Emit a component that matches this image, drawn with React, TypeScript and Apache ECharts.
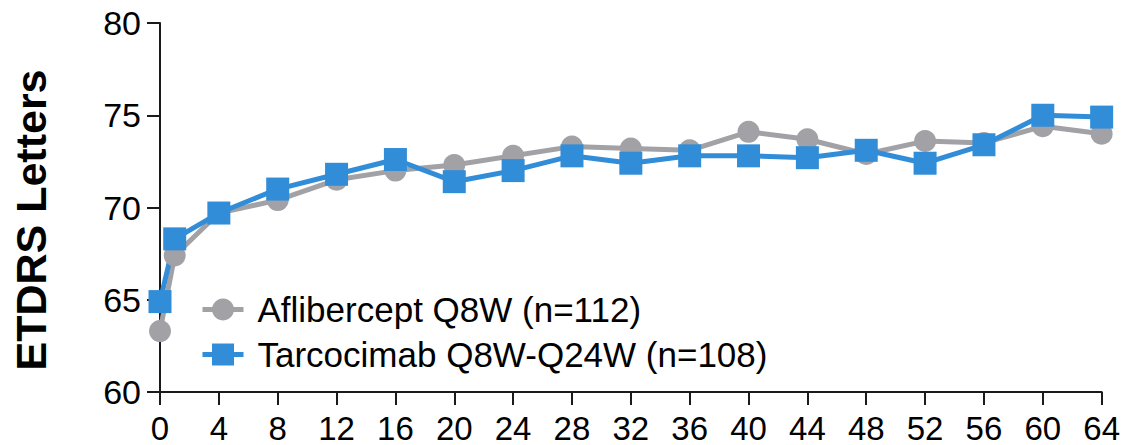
import React, { useEffect, useRef } from "react";
import * as echarts from "echarts";

const weeks = [0, 1, 4, 8, 12, 16, 20, 24, 28, 32, 36, 40, 44, 48, 52, 56, 60, 64];
const aflibercept = [63.3, 67.4, 69.7, 70.4, 71.5, 72.0, 72.3, 72.8, 73.3, 73.2, 73.1, 74.1, 73.7, 72.9, 73.6, 73.5, 74.4, 74.0];
const tarcocimab = [64.9, 68.3, 69.7, 71.0, 71.8, 72.6, 71.4, 72.0, 72.8, 72.4, 72.8, 72.8, 72.7, 73.1, 72.4, 73.4, 75.0, 74.9];
const seriesNames = ["Aflibercept Q8W (n=112)", "Tarcocimab Q8W-Q24W (n=108)"];
const yAxisTitle = "ETDRS Letters";

const FONT = "'Liberation Sans', Arial, Helvetica, sans-serif";
const GRAY = "#A2A1A6";
const BLUE = "#318DD8";
const AXIS = "#1a1a1a";

export default function App() {
  const ref = useRef<HTMLDivElement>(null);
  useEffect(() => {
    if (!ref.current) return;
    const chart = echarts.init(ref.current, null, { renderer: "svg" });
    const toPairs = (vals: number[]) => weeks.map((w, i) => [w, vals[i]]);
    chart.setOption({
      animation: false,
      backgroundColor: "#ffffff",
      grid: { left: 160, right: 21, top: 23, bottom: 53, containLabel: false },
      xAxis: {
        type: "value",
        min: 0,
        max: 64,
        interval: 4,
        splitLine: { show: false },
        axisLine: { show: true, lineStyle: { color: AXIS, width: 2 } },
        axisTick: { show: true, length: 13, lineStyle: { color: AXIS, width: 2 } },
        axisLabel: { fontSize: 33, lineHeight: 30, color: "#000", fontFamily: FONT, margin: 21 },
      },
      yAxis: {
        type: "value",
        min: 60,
        max: 80,
        interval: 5,
        splitLine: { show: false },
        axisLine: { show: true, lineStyle: { color: AXIS, width: 2 } },
        axisTick: { show: true, length: 13, lineStyle: { color: AXIS, width: 2 } },
        axisLabel: { fontSize: 34, color: "#000", fontFamily: FONT, margin: 19 },
      },
      legend: {
        orient: "vertical",
        left: 195,
        top: 287,
        itemWidth: 41,
        itemHeight: 27.5,
        itemGap: 10,
        data: seriesNames,
        lineStyle: { width: 5 },
        textStyle: { fontSize: 35, lineHeight: 34, color: "#000", fontFamily: FONT, padding: [0, 0, 0, 9] },
      },
      graphic: [
        {
          type: "text",
          x: 31,
          y: 220,
          rotation: Math.PI / 2,
          style: {
            text: yAxisTitle,
            fontSize: 43,
            fontWeight: "bold",
            fontFamily: FONT,
            fill: "#000",
            textAlign: "center",
            textVerticalAlign: "middle",
          },
        },
      ],
      series: [
        {
          name: seriesNames[0],
          type: "line",
          data: toPairs(aflibercept),
          symbol: "circle",
          symbolSize: 22,
          clip: false,
          lineStyle: { color: GRAY, width: 5 },
          itemStyle: { color: GRAY },
        },
        {
          name: seriesNames[1],
          type: "line",
          data: toPairs(tarcocimab),
          symbol: "rect",
          symbolSize: 23,
          clip: false,
          lineStyle: { color: BLUE, width: 5 },
          itemStyle: { color: BLUE },
        },
      ],
    });
    return () => chart.dispose();
  }, []);
  return (
    <div
      ref={ref}
      style={{ position: "fixed", left: 0, top: 0, width: 1123, height: 445, background: "#fff" }}
    />
  );
}
